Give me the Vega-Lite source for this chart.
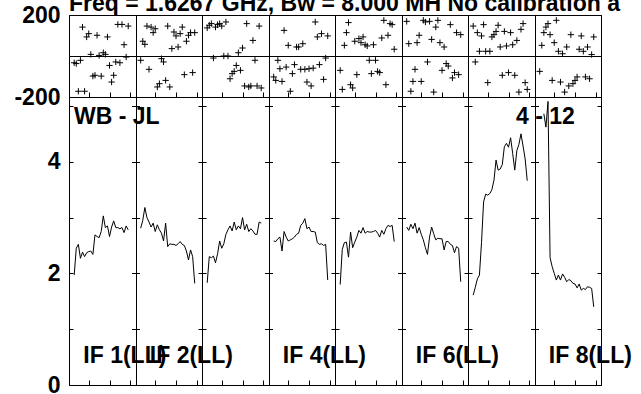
{
  "$schema": "https://vega.github.io/schema/vega-lite/v6.json",
  "autosize": {"type": "none"},
  "width": 532,
  "height": 370,
  "padding": {"left": 69, "top": 15, "right": 40, "bottom": 9},
  "background": "white",
  "title": {"text": "Freq = 1.6267 GHz, Bw = 8.000 MH  No calibration a", "anchor": "start", "frame": "group", "font": "Liberation Sans", "fontSize": 23, "fontWeight": "bold", "color": "black", "offset": 0, "dy": 12},
  "config": {
    "view": {"stroke": "black", "strokeWidth": 1},
    "axis": {"labelFont": "Liberation Sans", "labelFontSize": 23, "labelFontWeight": "bold", "labelColor": "black", "domain": false, "title": null}
  },
  "data": {"values": [
    {"band":1,"ch":3,"amp":1.97,"ph":-33},{"band":1,"ch":4,"amp":2.45,"ph":-37},{"band":1,"ch":5,"amp":2.52,"ph":-172},{"band":1,"ch":6,"amp":2.27,"ph":-21},{"band":1,"ch":7,"amp":2.38,"ph":141},{"band":1,"ch":8,"amp":2.30,"ph":-172},{"band":1,"ch":9,"amp":2.37,"ph":93},{"band":1,"ch":10,"amp":2.39,"ph":109},{"band":1,"ch":11,"amp":2.40,"ph":8},{"band":1,"ch":12,"amp":2.34,"ph":-98},{"band":1,"ch":13,"amp":2.69,"ph":-94},{"band":1,"ch":14,"amp":2.66,"ph":101},{"band":1,"ch":15,"amp":2.64,"ph":3},{"band":1,"ch":16,"amp":2.75,"ph":-98},{"band":1,"ch":17,"amp":3.03,"ph":16},{"band":1,"ch":18,"amp":2.82,"ph":8},{"band":1,"ch":19,"amp":2.85,"ph":93},{"band":1,"ch":20,"amp":2.66,"ph":-46},{"band":1,"ch":21,"amp":2.83,"ph":-127},{"band":1,"ch":22,"amp":2.94,"ph":-94},{"band":1,"ch":23,"amp":2.82,"ph":-29},{"band":1,"ch":24,"amp":2.82,"ph":154},{"band":1,"ch":25,"amp":2.80,"ph":-33},{"band":1,"ch":26,"amp":2.82,"ph":154},{"band":1,"ch":27,"amp":2.73,"ph":55},{"band":1,"ch":28,"amp":2.85,"ph":-5},{"band":1,"ch":29,"amp":2.78,"ph":146},
    {"band":2,"ch":35,"amp":2.81,"ph":-21},{"band":2,"ch":36,"amp":2.95,"ph":72},{"band":2,"ch":37,"amp":3.18,"ph":57},{"band":2,"ch":38,"amp":3.00,"ph":146},{"band":2,"ch":39,"amp":2.92,"ph":-65},{"band":2,"ch":40,"amp":2.83,"ph":141},{"band":2,"ch":41,"amp":2.90,"ph":114},{"band":2,"ch":42,"amp":2.75,"ph":133},{"band":2,"ch":43,"amp":2.87,"ph":-151},{"band":2,"ch":44,"amp":2.78,"ph":-135},{"band":2,"ch":45,"amp":2.72,"ph":-13},{"band":2,"ch":46,"amp":2.58,"ph":-29},{"band":2,"ch":47,"amp":2.90,"ph":-119},{"band":2,"ch":48,"amp":2.48,"ph":146},{"band":2,"ch":49,"amp":2.53,"ph":-151},{"band":2,"ch":50,"amp":2.52,"ph":36},{"band":2,"ch":51,"amp":2.52,"ph":117},{"band":2,"ch":52,"amp":2.50,"ph":98},{"band":2,"ch":53,"amp":2.53,"ph":44},{"band":2,"ch":54,"amp":2.57,"ph":109},{"band":2,"ch":55,"amp":2.52,"ph":141},{"band":2,"ch":56,"amp":2.50,"ph":-91},{"band":2,"ch":57,"amp":2.40,"ph":72},{"band":2,"ch":58,"amp":2.24,"ph":101},{"band":2,"ch":59,"amp":2.42,"ph":114},{"band":2,"ch":60,"amp":2.30,"ph":-81},{"band":2,"ch":61,"amp":1.82,"ph":114},
    {"band":3,"ch":67,"amp":1.83,"ph":137},{"band":3,"ch":68,"amp":2.30,"ph":150},{"band":3,"ch":69,"amp":2.28,"ph":158},{"band":3,"ch":70,"amp":2.31,"ph":-10},{"band":3,"ch":71,"amp":2.19,"ph":141},{"band":3,"ch":72,"amp":2.35,"ph":153},{"band":3,"ch":73,"amp":2.58,"ph":158},{"band":3,"ch":74,"amp":2.45,"ph":146},{"band":3,"ch":75,"amp":2.53,"ph":0},{"band":3,"ch":76,"amp":2.70,"ph":166},{"band":3,"ch":77,"amp":2.78,"ph":0},{"band":3,"ch":78,"amp":2.85,"ph":-111},{"band":3,"ch":79,"amp":2.76,"ph":-86},{"band":3,"ch":80,"amp":2.92,"ph":-75},{"band":3,"ch":81,"amp":2.78,"ph":-46},{"band":3,"ch":82,"amp":2.85,"ph":16},{"band":3,"ch":83,"amp":2.80,"ph":-70},{"band":3,"ch":84,"amp":3.00,"ph":39},{"band":3,"ch":85,"amp":2.78,"ph":-146},{"band":3,"ch":86,"amp":2.88,"ph":158},{"band":3,"ch":87,"amp":2.75,"ph":-151},{"band":3,"ch":88,"amp":2.80,"ph":-146},{"band":3,"ch":89,"amp":2.76,"ph":76},{"band":3,"ch":90,"amp":2.70,"ph":-21},{"band":3,"ch":91,"amp":2.70,"ph":-146},{"band":3,"ch":92,"amp":2.92,"ph":146},{"band":3,"ch":93,"amp":2.90,"ph":-156},
    {"band":4,"ch":99,"amp":2.58,"ph":-102},{"band":4,"ch":100,"amp":2.57,"ph":-119},{"band":4,"ch":101,"amp":2.62,"ph":-21},{"band":4,"ch":102,"amp":2.65,"ph":-62},{"band":4,"ch":103,"amp":2.40,"ph":-124},{"band":4,"ch":104,"amp":2.75,"ph":125},{"band":4,"ch":105,"amp":2.65,"ph":-54},{"band":4,"ch":106,"amp":2.58,"ph":52},{"band":4,"ch":107,"amp":2.60,"ph":-172},{"band":4,"ch":108,"amp":2.62,"ph":-86},{"band":4,"ch":109,"amp":2.65,"ph":-42},{"band":4,"ch":110,"amp":2.70,"ph":44},{"band":4,"ch":111,"amp":2.72,"ph":44},{"band":4,"ch":112,"amp":2.86,"ph":-65},{"band":4,"ch":113,"amp":2.90,"ph":60},{"band":4,"ch":114,"amp":2.98,"ph":-65},{"band":4,"ch":115,"amp":2.80,"ph":-127},{"band":4,"ch":116,"amp":2.83,"ph":-62},{"band":4,"ch":117,"amp":2.75,"ph":-146},{"band":4,"ch":118,"amp":2.75,"ph":-59},{"band":4,"ch":119,"amp":2.74,"ph":166},{"band":4,"ch":120,"amp":2.55,"ph":93},{"band":4,"ch":121,"amp":2.52,"ph":-42},{"band":4,"ch":122,"amp":2.53,"ph":109},{"band":4,"ch":123,"amp":2.50,"ph":-114},{"band":4,"ch":124,"amp":2.52,"ph":-10},{"band":4,"ch":125,"amp":1.88,"ph":98},
    {"band":5,"ch":131,"amp":1.80,"ph":-70},{"band":5,"ch":132,"amp":2.43,"ph":-163},{"band":5,"ch":133,"amp":2.55,"ph":52},{"band":5,"ch":134,"amp":2.56,"ph":114},{"band":5,"ch":135,"amp":2.29,"ph":163},{"band":5,"ch":136,"amp":2.74,"ph":-140},{"band":5,"ch":137,"amp":2.46,"ph":-156},{"band":5,"ch":138,"amp":2.56,"ph":72},{"band":5,"ch":139,"amp":2.65,"ph":-91},{"band":5,"ch":140,"amp":2.77,"ph":85},{"band":5,"ch":141,"amp":2.72,"ph":65},{"band":5,"ch":142,"amp":2.82,"ph":93},{"band":5,"ch":143,"amp":2.72,"ph":55},{"band":5,"ch":144,"amp":2.75,"ph":49},{"band":5,"ch":145,"amp":2.74,"ph":-21},{"band":5,"ch":146,"amp":2.74,"ph":-86},{"band":5,"ch":147,"amp":2.75,"ph":55},{"band":5,"ch":148,"amp":2.77,"ph":-21},{"band":5,"ch":149,"amp":2.72,"ph":-75},{"band":5,"ch":150,"amp":2.65,"ph":-81},{"band":5,"ch":151,"amp":2.77,"ph":88},{"band":5,"ch":152,"amp":2.70,"ph":174},{"band":5,"ch":153,"amp":2.80,"ph":-140},{"band":5,"ch":154,"amp":2.86,"ph":101},{"band":5,"ch":155,"amp":2.84,"ph":158},{"band":5,"ch":156,"amp":2.86,"ph":153},{"band":5,"ch":157,"amp":2.57,"ph":33},
    {"band":6,"ch":163,"amp":2.83,"ph":169},{"band":6,"ch":164,"amp":2.77,"ph":60},{"band":6,"ch":165,"amp":2.88,"ph":-172},{"band":6,"ch":166,"amp":2.80,"ph":-124},{"band":6,"ch":167,"amp":2.90,"ph":-65},{"band":6,"ch":168,"amp":2.72,"ph":65},{"band":6,"ch":169,"amp":2.82,"ph":101},{"band":6,"ch":170,"amp":2.70,"ph":-124},{"band":6,"ch":171,"amp":2.60,"ph":174},{"band":6,"ch":172,"amp":2.46,"ph":166},{"band":6,"ch":173,"amp":2.34,"ph":-29},{"band":6,"ch":174,"amp":2.65,"ph":169},{"band":6,"ch":175,"amp":2.83,"ph":81},{"band":6,"ch":176,"amp":2.71,"ph":-176},{"band":6,"ch":177,"amp":2.60,"ph":141},{"band":6,"ch":178,"amp":2.63,"ph":174},{"band":6,"ch":179,"amp":2.62,"ph":65},{"band":6,"ch":180,"amp":2.62,"ph":-70},{"band":6,"ch":181,"amp":2.42,"ph":44},{"band":6,"ch":182,"amp":2.57,"ph":-37},{"band":6,"ch":183,"amp":2.57,"ph":-49},{"band":6,"ch":184,"amp":2.52,"ph":153},{"band":6,"ch":185,"amp":2.50,"ph":-107},{"band":6,"ch":186,"amp":2.37,"ph":-81},{"band":6,"ch":187,"amp":2.48,"ph":114},{"band":6,"ch":188,"amp":2.45,"ph":-91},{"band":6,"ch":189,"amp":1.85,"ph":104},
    {"band":7,"ch":195,"amp":1.61,"ph":146},{"band":7,"ch":196,"amp":1.75,"ph":-29},{"band":7,"ch":197,"amp":1.90,"ph":114},{"band":7,"ch":198,"amp":1.97,"ph":23},{"band":7,"ch":199,"amp":2.55,"ph":98},{"band":7,"ch":200,"amp":3.28,"ph":153},{"band":7,"ch":201,"amp":3.42,"ph":23},{"band":7,"ch":202,"amp":3.40,"ph":-130},{"band":7,"ch":203,"amp":3.43,"ph":23},{"band":7,"ch":204,"amp":3.50,"ph":93},{"band":7,"ch":205,"amp":3.67,"ph":104},{"band":7,"ch":206,"amp":4.03,"ph":120},{"band":7,"ch":207,"amp":3.85,"ph":150},{"band":7,"ch":208,"amp":3.87,"ph":44},{"band":7,"ch":209,"amp":3.95,"ph":-94},{"band":7,"ch":210,"amp":4.27,"ph":120},{"band":7,"ch":211,"amp":4.33,"ph":49},{"band":7,"ch":212,"amp":4.26,"ph":-81},{"band":7,"ch":213,"amp":4.43,"ph":114},{"band":7,"ch":214,"amp":4.15,"ph":55},{"band":7,"ch":215,"amp":3.85,"ph":-94},{"band":7,"ch":216,"amp":4.20,"ph":76},{"band":7,"ch":217,"amp":4.31,"ph":-176},{"band":7,"ch":218,"amp":4.50,"ph":130},{"band":7,"ch":219,"amp":4.28,"ph":158},{"band":7,"ch":220,"amp":4.05,"ph":-130},{"band":7,"ch":221,"amp":3.66,"ph":-163},
    {"band":8,"ch":227,"ph":-75},{"band":8,"ch":228,"ph":52},{"band":8,"ch":229,"amp":4.86,"ph":114},{"band":8,"ch":230,"amp":4.62,"ph":141},{"band":8,"ch":231,"amp":5.08,"ph":158},{"band":8,"ch":232,"amp":2.28,"ph":104},{"band":8,"ch":233,"amp":2.12,"ph":-119},{"band":8,"ch":234,"amp":2.00,"ph":65},{"band":8,"ch":235,"amp":1.88,"ph":174},{"band":8,"ch":236,"amp":1.97,"ph":23},{"band":8,"ch":237,"amp":1.88,"ph":-127},{"band":8,"ch":238,"amp":1.99,"ph":11},{"band":8,"ch":239,"amp":1.93,"ph":-176},{"band":8,"ch":240,"amp":1.85,"ph":44},{"band":8,"ch":241,"amp":1.89,"ph":-146},{"band":8,"ch":242,"amp":1.87,"ph":104},{"band":8,"ch":243,"amp":1.82,"ph":-135},{"band":8,"ch":244,"amp":1.81,"ph":-119},{"band":8,"ch":245,"amp":1.74,"ph":-102},{"band":8,"ch":246,"amp":1.81,"ph":33},{"band":8,"ch":247,"amp":1.70,"ph":98},{"band":8,"ch":248,"amp":1.73,"ph":23},{"band":8,"ch":249,"amp":1.71,"ph":-102},{"band":8,"ch":250,"amp":1.76,"ph":44},{"band":8,"ch":251,"amp":1.75,"ph":-111},{"band":8,"ch":252,"amp":1.73,"ph":7},{"band":8,"ch":253,"amp":1.40,"ph":93}
  ]},
  "layer": [
    {
      "mark": {"type": "point", "shape": "M-1,0L1,0M0,-1L0,1", "filled": false, "stroke": "black", "strokeWidth": 1, "size": 40, "opacity": 1},
      "encoding": {
        "x": {"field": "ch", "type": "quantitative", "scale": {"domain": [0.5, 256.5], "nice": false, "zero": false},
              "axis": {"orient": "bottom", "offset": -293, "values": [10,20,30,42,52,62,74,84,94,106,116,126,138,148,158,170,180,190,202,212,222,234,244,254], "labels": false, "grid": false, "ticks": true, "tickSize": 5, "tickColor": "black", "tickWidth": 1}},
        "y": {"field": "ph", "type": "quantitative", "scale": {"domain": [-200, 200], "range": [82, 0], "nice": false, "zero": false},
              "axis": {"orient": "left", "values": [-200, 0, 200], "labelExpr": "datum.value == 0 ? '' : '' + datum.value", "ticks": false, "labelPadding": 9, "grid": true, "gridColor": "black", "gridOpacity": 1, "gridWidth": 1}}
      }
    },
    {
      "data": {"values": [
        {"ch": 2.9, "amp": 4.67, "label": "WB - JL"},
        {"ch": 215.6, "amp": 4.68, "label": "4 - 12"},
        {"ch": 7.4, "amp": 0.39, "label": "IF 1(LL)"},
        {"ch": 39.4, "amp": 0.39, "label": "IF 2(LL)"},
        {"ch": 103.4, "amp": 0.39, "label": "IF 4(LL)"},
        {"ch": 167.4, "amp": 0.39, "label": "IF 6(LL)"},
        {"ch": 231.4, "amp": 0.39, "label": "IF 8(LL)"}
      ]},
      "mark": {"type": "text", "align": "left", "baseline": "alphabetic", "font": "Liberation Sans", "fontSize": 23, "fontWeight": "bold", "color": "black"},
      "encoding": {
        "x": {"field": "ch", "type": "quantitative", "scale": {"domain": [0.5, 256.5], "nice": false, "zero": false},
              "axis": {"orient": "bottom", "values": [0.5, 32.5, 64.5, 96.5, 128.5, 160.5, 192.5, 224.5, 256.5], "labels": false, "ticks": false, "grid": true, "gridColor": "black", "gridWidth": 1, "gridOpacity": 1}},
        "y": {"field": "amp", "type": "quantitative", "scale": {"domain": [0, 6.629], "nice": false, "zero": false}, "axis": null},
        "text": {"field": "label"}
      }
    },
    {
      "mark": {"type": "line", "color": "black", "strokeWidth": 1, "clip": true},
      "encoding": {
        "x": {"field": "ch", "type": "quantitative", "scale": {"domain": [0.5, 256.5], "nice": false, "zero": false},
              "axis": {"orient": "bottom", "offset": -5, "values": [10,20,30,42,52,62,74,84,94,106,116,126,138,148,158,170,180,190,202,212,222,234,244,254], "labels": false, "ticks": true, "tickSize": 5, "tickColor": "black", "tickWidth": 1, "grid": false}},
        "y": {"field": "amp", "type": "quantitative", "scale": {"domain": [0, 6.629], "nice": false, "zero": false},
              "axis": {"orient": "left", "values": [0, 1, 2, 3, 4, 5], "labelExpr": "datum.value % 2 == 0 ? '' + datum.value : ''", "ticks": false, "labelPadding": 9, "grid": true, "gridColor": "black", "gridOpacity": 1, "gridWidth": 1,
                       "gridDash": {"condition": {"test": "datum.value == 0", "value": [1, 0]}, "value": [8, 58.5]}, "gridDashOffset": 4}},
        "detail": {"field": "band"}
      }
    }
  ],
  "resolve": {"scale": {"y": "independent"}, "axis": {"x": "independent", "y": "independent"}}
}
